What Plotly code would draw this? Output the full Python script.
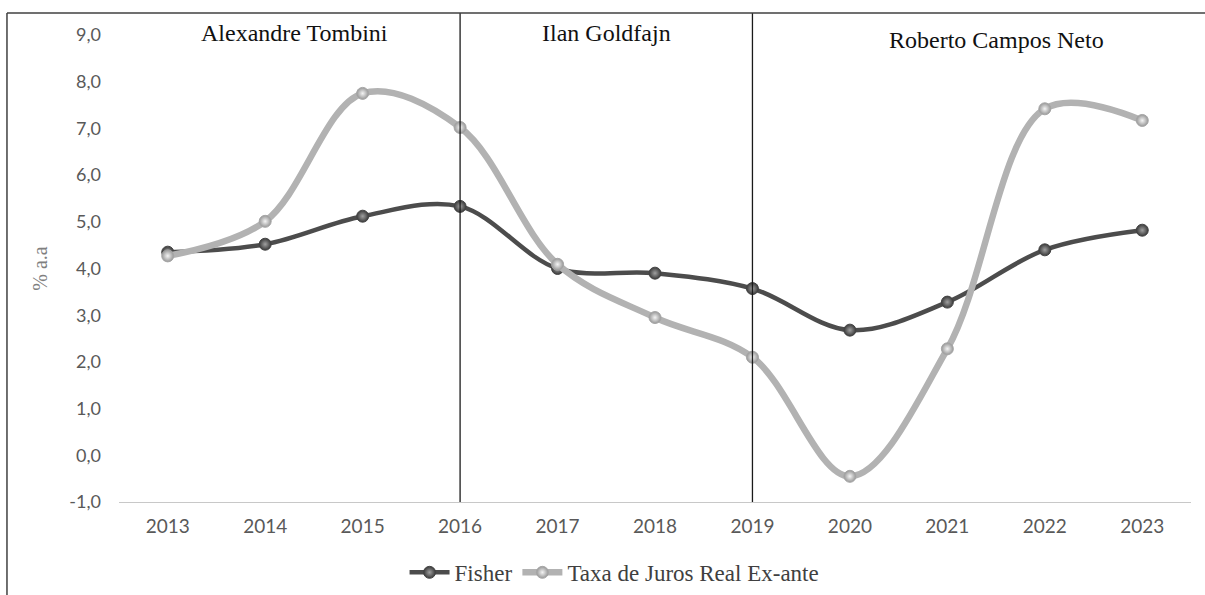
import plotly.graph_objects as go

# Anos e séries (% a.a.)
anos = [2013, 2014, 2015, 2016, 2017, 2018, 2019, 2020, 2021, 2022, 2023]
fisher = [4.35, 4.52, 5.12, 5.33, 4.0, 3.9, 3.57, 2.68, 3.28, 4.40, 4.82]
taxa_real = [4.27, 5.01, 7.75, 7.02, 4.09, 2.95, 2.10, -0.45, 2.28, 7.42, 7.17]

# Mandatos na presidência do Banco Central
presidentes = ["Alexandre Tombini", "Ilan Goldfajn", "Roberto Campos Neto"]
posicao_nome_x = [2014.3, 2017.5, 2021.5]
transicoes = [2016, 2019]

y_ticks = list(range(-1, 10))
y_labels = [f"{v},0" for v in y_ticks]

fig = go.Figure()

fig.add_trace(go.Scatter(
    x=anos, y=fisher, name="Fisher", mode="lines+markers",
    line=dict(color="#4c4c4c", width=4.5, shape="spline", smoothing=1.0),
    marker=dict(size=12, color="#3a3a3a",
                gradient=dict(type="radial", color="#a0a0a0"),
                line=dict(color="#444444", width=1)),
))
fig.add_trace(go.Scatter(
    x=anos, y=taxa_real, name="Taxa de Juros Real Ex-ante", mode="lines+markers",
    line=dict(color="#b2b2b2", width=6.5, shape="spline", smoothing=1.0),
    marker=dict(size=12, color="#979797",
                gradient=dict(type="radial", color="#f4f4f4"),
                line=dict(color="#a6a6a6", width=1)),
))

# Linhas de transição entre mandatos
for ano in transicoes:
    fig.add_shape(type="line", xref="x", yref="paper",
                  x0=ano, x1=ano, y0=0, y1=1.047,
                  line=dict(color="#1a1a1a", width=1.3))

# Nomes dos presidentes no topo de cada período
for nome, xp, yp in zip(presidentes, posicao_nome_x, [1.004, 1.004, 0.99]):
    fig.add_annotation(x=xp, y=yp, xref="x", yref="paper", text=nome,
                       showarrow=False, yanchor="middle",
                       font=dict(family="Liberation Serif", size=24, color="#111111"))

# Moldura externa
fig.add_shape(type="line", xref="paper", yref="paper",
              x0=-0.1045, x1=1.02, y0=1.047, y1=1.047,
              line=dict(color="#404040", width=1.5))
fig.add_shape(type="line", xref="paper", yref="paper",
              x0=-0.1045, x1=-0.1045, y0=1.047, y1=-0.22,
              line=dict(color="#404040", width=1.5))

fig.update_layout(
    width=1205, height=595,
    margin=dict(l=119, r=14, t=35, b=93, autoexpand=False),
    paper_bgcolor="white", plot_bgcolor="white",
    showlegend=True,
    legend=dict(orientation="h", xref="container", yref="container",
                x=0.51, xanchor="center", y=0.038, yanchor="middle",
                font=dict(family="Liberation Serif", size=23, color="#404040"),
                itemwidth=40, tracegroupgap=0),
    xaxis=dict(range=[2012.5, 2023.5], tickvals=anos, ticktext=[str(a) for a in anos],
               showgrid=False, zeroline=False, showline=True, linecolor="#c8c8c8",
               linewidth=1, ticks="", ticklabelstandoff=7,
               tickfont=dict(family="Lato", size=19, color="#595959")),
    yaxis=dict(range=[-1, 9], tickvals=y_ticks, ticktext=y_labels,
               showgrid=False, zeroline=False, showline=False, ticks="",
               ticklabelstandoff=17,
               tickfont=dict(family="Lato", size=18, color="#595959"),
               title=dict(text="% a.a", standoff=16,
                          font=dict(family="Liberation Serif", size=20, color="#7f7f7f"))),
)

fig.write_html("out.html")
